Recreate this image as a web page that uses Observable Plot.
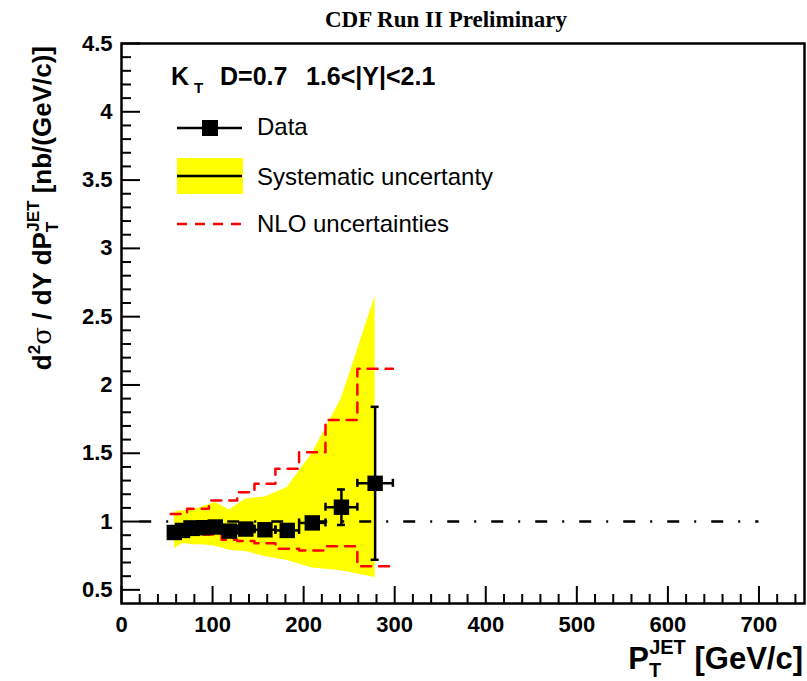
<!DOCTYPE html>
<html>
<head>
<meta charset="utf-8">
<script src="https://cdn.jsdelivr.net/npm/d3@7"></script>
<script src="https://cdn.jsdelivr.net/npm/@observablehq/plot@0.6"></script>
<style>
  body { margin: 0; background: #fff; }
  svg { display: block; }
</style>
</head>
<body>
<div id="chart"></div>
<script>
// Jet pT bins (GeV/c), kT D=0.7, 1.6<|Y|<2.1
const binLow  = [54, 62, 72, 83, 96, 110, 127, 146, 169, 195, 224, 259];
const binHigh = [62, 72, 83, 96, 110, 127, 146, 169, 195, 224, 259, 298];
// Data / NLO ratio and statistical error
const ratio   = [0.92, 0.935, 0.95, 0.955, 0.96, 0.93, 0.945, 0.94, 0.935, 0.99, 1.105, 1.28];
const statErr = [0.01, 0.01, 0.01, 0.01, 0.012, 0.012, 0.015, 0.018, 0.025, 0.04, 0.13, 0.56];
// Systematic uncertainty band (lower / upper edge)
const sysLow  = [0.80, 0.84, 0.83, 0.83, 0.82, 0.79, 0.78, 0.745, 0.715, 0.66, 0.64, 0.59];
const sysHigh = [1.07, 1.08, 1.08, 1.11, 1.14, 1.085, 1.165, 1.18, 1.25, 1.50, 1.90, 2.65];
// NLO uncertainty envelope (lower / upper), per bin
const nloLow  = [0.93, 0.92, 0.905, 0.905, 0.905, 0.866, 0.857, 0.841, 0.80, 0.788, 0.819, 0.673];
const nloHigh = [1.056, 1.056, 1.093, 1.093, 1.154, 1.154, 1.215, 1.276, 1.386, 1.507, 1.744, 2.118];

const xTicks = [0, 100, 200, 300, 400, 500, 600, 700];
const yTicks = [0.5, 1, 1.5, 2, 2.5, 3, 3.5, 4, 4.5];
const xDomain = [0, 750];
const yDomain = [0.4, 4.5];
const unityLine = [20, 700];

const W = 807, H = 681;
const mL = 121, mR = 3, mT = 43, mB = 78;
const frameW = W - mL - mR, frameH = H - mT - mB;

const points = binLow.map((lo, i) => ({
  lo, hi: binHigh[i], x: (lo + binHigh[i]) / 2,
  y: ratio[i], err: statErr[i], sl: sysLow[i], sh: sysHigh[i]
}));
const stepOf = vals => binLow.flatMap((lo, i) => [{x: lo, y: vals[i]}, {x: binHigh[i], y: vals[i]}]);

const xMinor = d3.range(20, 750, 20).filter(v => v % 100 !== 0);
const yMinor = d3.range(6, 45, 1).map(v => v / 10).filter(v => Math.round(v * 10) % 5 !== 0);

const font = "Liberation Sans, Arial, Helvetica, sans-serif";
const bar = {stroke: "black", strokeWidth: 2.5};

const chart = Plot.plot({
  width: W, height: H,
  marginLeft: mL, marginRight: mR, marginTop: mT, marginBottom: mB,
  x: {domain: xDomain, axis: null},
  y: {domain: yDomain, axis: null},
  style: {fontFamily: font, background: "white"},
  marks: [
    Plot.areaY(points, {x: "x", y1: "sl", y2: "sh", fill: "#ffff00"}),
    Plot.line(stepOf(nloHigh), {x: "x", y: "y", stroke: "#ff0000", strokeWidth: 2.5, strokeDasharray: "10,8"}),
    Plot.line(stepOf(nloLow), {x: "x", y: "y", stroke: "#ff0000", strokeWidth: 2.5, strokeDasharray: "10,8"}),
    Plot.ruleY([1], {x1: unityLine[0], x2: unityLine[1], stroke: "black", strokeWidth: 2.5, strokeDasharray: "12,15,2,15"}),
    // statistical error bars with end caps
    Plot.ruleX(points, {x: "x", y1: d => d.y - d.err, y2: d => d.y + d.err, ...bar}),
    Plot.ruleY(points, {y: d => d.y + d.err, x1: "x", x2: "x", insetLeft: -4, insetRight: -4, ...bar}),
    Plot.ruleY(points, {y: d => d.y - d.err, x1: "x", x2: "x", insetLeft: -4, insetRight: -4, ...bar}),
    // bin-width bars with end caps
    Plot.ruleY(points, {y: "y", x1: "lo", x2: "hi", ...bar}),
    Plot.ruleX(points, {x: "lo", y1: "y", y2: "y", insetTop: -4, insetBottom: -4, ...bar}),
    Plot.ruleX(points, {x: "hi", y1: "y", y2: "y", insetTop: -4, insetBottom: -4, ...bar}),
    Plot.dot(points, {x: "x", y: "y", symbol: "square", r: 8.7, fill: "black", stroke: null}),
    // inward ticks on the bottom and left axes
    Plot.ruleX(xMinor, {x: d => d, insetTop: frameH - 9, stroke: "black", strokeWidth: 2}),
    Plot.ruleX(xTicks, {x: d => d, insetTop: frameH - 17, stroke: "black", strokeWidth: 2}),
    Plot.ruleY(yMinor, {y: d => d, insetRight: frameW - 10, stroke: "black", strokeWidth: 2}),
    Plot.ruleY(yTicks, {y: d => d, insetRight: frameW - 19, stroke: "black", strokeWidth: 2}),
    Plot.text(xTicks, {x: d => d, frameAnchor: "bottom", dy: 28, text: d => String(d), fontSize: 22, fontWeight: "bold", fill: "black"}),
    Plot.text(yTicks, {y: d => d, frameAnchor: "left", dx: -9, textAnchor: "end", text: d => String(d), fontSize: 22, fontWeight: "bold", fill: "black"}),
    Plot.frame({stroke: "black", strokeWidth: 2.5})
  ]
});

document.getElementById("chart").appendChild(chart);

// Title, axis titles and legend
const svg = d3.select(chart);
const g = svg.append("g").attr("font-family", font).attr("fill", "black").attr("text-anchor", "start");

g.append("text")
  .attr("x", 446).attr("y", 27).attr("text-anchor", "middle")
  .attr("font-family", "Liberation Serif, Times New Roman, serif")
  .attr("font-weight", "bold").attr("font-size", 23)
  .text("CDF Run II Preliminary");

// x-axis title
const xt = g.append("text").attr("x", 803).attr("y", 669).attr("text-anchor", "end")
  .attr("font-weight", "bold").attr("font-size", 31);
xt.append("tspan").text("P");
xt.append("tspan").attr("font-size", 20).attr("dy", 8).text("T");
xt.append("tspan").attr("font-size", 20).attr("dx", -12).attr("dy", -23).text("JET");
xt.append("tspan").attr("dy", 15).text(" [GeV/c]");

// y-axis title
const yt = g.append("text").attr("transform", "translate(51,46) rotate(-90)").attr("text-anchor", "end")
  .attr("font-weight", "bold").attr("font-size", 26);
yt.append("tspan").text("d");
yt.append("tspan").attr("font-size", 17).attr("dy", -11).text("2");
yt.append("tspan").attr("dy", 11).attr("font-weight", "normal").attr("font-family", "DejaVu Serif, serif").text("σ");
yt.append("tspan").text(" / dY dP");
yt.append("tspan").attr("font-size", 17).attr("dy", 7).text("T");
yt.append("tspan").attr("font-size", 17).attr("dx", -10).attr("dy", -19).text("JET");
yt.append("tspan").attr("dy", 12).text(" [nb/(GeV/c)]");

// legend header
const hd = g.append("text").attr("y", 85).attr("font-weight", "bold").attr("font-size", 25);
hd.append("tspan").attr("x", 171).text("K");
hd.append("tspan").attr("x", 194).attr("dy", 8).attr("font-size", 15).text("T");
hd.append("tspan").attr("x", 220).attr("dy", -8).text("D=0.7");
hd.append("tspan").attr("x", 306).text("1.6<|Y|<2.1");

// legend entries
const lx0 = 177, lx1 = 242, tx = 257;
g.append("line").attr("x1", lx0).attr("x2", lx1).attr("y1", 128).attr("y2", 128).attr("stroke", "black").attr("stroke-width", 2.5);
g.append("rect").attr("x", 202).attr("y", 120).attr("width", 16).attr("height", 16).attr("fill", "black");
g.append("text").attr("x", tx).attr("y", 135).attr("font-size", 24).text("Data");

g.append("rect").attr("x", lx0).attr("y", 158).attr("width", lx1 - lx0 + 1).attr("height", 36).attr("fill", "#ffff00");
g.append("line").attr("x1", lx0).attr("x2", lx1).attr("y1", 176).attr("y2", 176).attr("stroke", "black").attr("stroke-width", 2.5);
g.append("text").attr("x", tx).attr("y", 185).attr("font-size", 24).text("Systematic uncertanty");

g.append("line").attr("x1", lx0).attr("x2", lx1).attr("y1", 224).attr("y2", 224).attr("stroke", "#ff0000").attr("stroke-width", 2.5).attr("stroke-dasharray", "10,8");
g.append("text").attr("x", tx).attr("y", 232).attr("font-size", 24).text("NLO uncertainties");
</script>
</body>
</html>
